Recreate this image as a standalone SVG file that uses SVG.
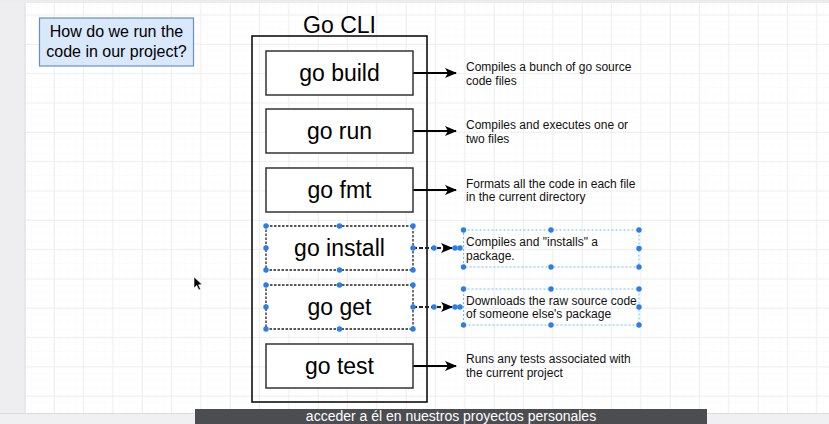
<svg xmlns="http://www.w3.org/2000/svg" width="829" height="424" viewBox="0 0 829 424">
<defs>
<pattern id="minor" x="24.5" y="14.5" width="7.333" height="7.333" patternUnits="userSpaceOnUse">
<path d="M7.333 0V7.333M0 7.333H7.333" fill="none" stroke="#fafafa" stroke-width="1"/>
</pattern>
<pattern id="major" x="24.5" y="14.5" width="29.33" height="29.33" patternUnits="userSpaceOnUse">
<path d="M0.5 0V29.33M0 0.5H29.33" fill="none" stroke="#eeeeee" stroke-width="1"/>
</pattern>
<marker id="arr" viewBox="0 0 12 10" refX="11" refY="5" markerWidth="12" markerHeight="10" markerUnits="userSpaceOnUse" orient="auto">
<path d="M0 0L12 5L0 10L3 5Z" fill="#000"/>
</marker>
<style>
.box{fill:#fff;stroke:#333;stroke-width:1.5}
.sel{fill:#fff;stroke:#222;stroke-width:1.3;stroke-dasharray:2.5 1.5}
.cmd{font-family:"Liberation Sans",Arial,sans-serif;font-size:23px;fill:#000;text-anchor:middle}
.desc{font-family:"Liberation Sans",Arial,sans-serif;font-size:12px;fill:#111}
.edge{stroke:#000;stroke-width:2;fill:none;marker-end:url(#arr)}
.edsel{stroke:#222;stroke-width:2;fill:none;stroke-dasharray:4 2;marker-end:url(#arr)}
.h{fill:#2b7de9}
.tsel{fill:none;stroke:#6cc0f5;stroke-width:1;stroke-dasharray:2 2}
</style>
</defs>
<rect width="829" height="424" fill="#fff"/>
<rect x="25" y="3" width="804" height="410" fill="url(#minor)"/>
<rect x="25" y="3" width="804" height="410" fill="url(#major)"/>
<rect x="0" y="0" width="25" height="424" fill="#eeeef0"/>
<line x1="25" y1="0" x2="25" y2="413" stroke="#dedede"/>
<rect x="0" y="0" width="829" height="3" fill="#ececee"/>
<rect x="0" y="413" width="829" height="11" fill="#f0f0f2"/>
<line x1="0" y1="413.5" x2="829" y2="413.5" stroke="#dcdcdc"/>

<g id="question">
<rect x="39.5" y="18" width="154" height="48" fill="#dae8fc" stroke="#6c8ebf" stroke-width="1.2"/>
<text x="116.5" y="37" font-family="Liberation Sans, Arial, sans-serif" font-size="16" text-anchor="middle">How do we run the</text>
<text x="116.5" y="57" font-family="Liberation Sans, Arial, sans-serif" font-size="16" text-anchor="middle">code in our project?</text>
</g>

<g id="go-cli">
<rect x="252" y="36" width="175" height="366" fill="none" stroke="#000" stroke-width="1.5"/>
<text x="339.5" y="32.5" font-family="Liberation Sans, Arial, sans-serif" font-size="23" text-anchor="middle">Go CLI</text>
</g>

<g id="connectors">
<line class="edge" x1="413" y1="73" x2="456" y2="73"/>
<line class="edge" x1="413" y1="131" x2="456" y2="131"/>
<line class="edge" x1="413" y1="190" x2="456" y2="190"/>
<line class="edsel" x1="413" y1="248" x2="452" y2="248"/>
<line class="edsel" x1="413" y1="307" x2="452" y2="307"/>
<line class="edge" x1="413" y1="366" x2="456" y2="366"/>
</g>

<g id="go-build">
<rect class="box" x="266" y="51" width="147" height="44"/>
<text class="cmd" x="339.5" y="81">go build</text>
</g>
<g id="go-run">
<rect class="box" x="266" y="109" width="147" height="44"/>
<text class="cmd" x="339.5" y="139">go run</text>
</g>
<g id="go-fmt">
<rect class="box" x="266" y="168" width="147" height="44"/>
<text class="cmd" x="339.5" y="198">go fmt</text>
</g>
<g id="go-install">
<rect class="sel" x="266" y="226" width="147" height="44"/>
<text class="cmd" x="339.5" y="256">go install</text>
</g>
<g id="go-get">
<rect class="sel" x="266" y="285" width="147" height="44"/>
<text class="cmd" x="339.5" y="315">go get</text>
</g>
<g id="go-test">
<rect class="box" x="266" y="344" width="147" height="44"/>
<text class="cmd" x="339.5" y="374">go test</text>
</g>

<g id="desc-build">
<text class="desc" x="466" y="71">Compiles a bunch of go source</text>
<text class="desc" x="466" y="84.5">code files</text>
</g>
<g id="desc-run">
<text class="desc" x="466" y="129">Compiles and executes one or</text>
<text class="desc" x="466" y="142.5">two files</text>
</g>
<g id="desc-fmt">
<text class="desc" x="466" y="187.5">Formats all the code in each file</text>
<text class="desc" x="466" y="201">in the current directory</text>
</g>
<g id="desc-install">
<rect class="tsel" x="463.5" y="230" width="175.5" height="37"/>
<text class="desc" x="466" y="246">Compiles and "installs" a</text>
<text class="desc" x="466" y="259.5">package.</text>
</g>
<g id="desc-get">
<rect class="tsel" x="463.5" y="289" width="175.5" height="36"/>
<text class="desc" x="466" y="304.5">Downloads the raw source code</text>
<text class="desc" x="466" y="318">of someone else's package</text>
</g>
<g id="desc-test">
<text class="desc" x="466" y="363">Runs any tests associated with</text>
<text class="desc" x="466" y="376.5">the current project</text>
</g>

<g id="handles">
<circle class="h" cx="266" cy="226" r="2.7"/><circle class="h" cx="339.5" cy="226" r="2.7"/><circle class="h" cx="413" cy="226" r="2.7"/>
<circle class="h" cx="266" cy="248" r="2.7"/><circle class="h" cx="413" cy="248" r="2.7"/>
<circle class="h" cx="266" cy="270" r="2.7"/><circle class="h" cx="339.5" cy="270" r="2.7"/><circle class="h" cx="413" cy="270" r="2.7"/>
<circle class="h" cx="266" cy="285" r="2.7"/><circle class="h" cx="339.5" cy="285" r="2.7"/><circle class="h" cx="413" cy="285" r="2.7"/>
<circle class="h" cx="266" cy="307" r="2.7"/><circle class="h" cx="413" cy="307" r="2.7"/>
<circle class="h" cx="266" cy="329" r="2.7"/><circle class="h" cx="339.5" cy="329" r="2.7"/><circle class="h" cx="413" cy="329" r="2.7"/>
<circle class="h" cx="434" cy="248" r="2.7"/><circle class="h" cx="455" cy="248" r="2.7"/>
<circle class="h" cx="434" cy="307" r="2.7"/><circle class="h" cx="455" cy="307" r="2.7"/>
<circle class="h" cx="463.5" cy="230" r="2.7"/><circle class="h" cx="551" cy="230" r="2.7"/><circle class="h" cx="639" cy="230" r="2.7"/>
<circle class="h" cx="460" cy="248" r="2.7"/><circle class="h" cx="639" cy="248.5" r="2.7"/>
<circle class="h" cx="463.5" cy="267" r="2.7"/><circle class="h" cx="551" cy="267" r="2.7"/><circle class="h" cx="639" cy="267" r="2.7"/>
<circle class="h" cx="463.5" cy="289" r="2.7"/><circle class="h" cx="551" cy="289" r="2.7"/><circle class="h" cx="639" cy="289" r="2.7"/>
<circle class="h" cx="460" cy="307" r="2.7"/><circle class="h" cx="639" cy="307" r="2.7"/>
<circle class="h" cx="463.5" cy="325" r="2.7"/><circle class="h" cx="551" cy="325" r="2.7"/><circle class="h" cx="639" cy="325" r="2.7"/>
</g>

<path d="M194 277L194 288L196.8 285.5L198.8 290L200.5 289.2L198.6 284.8L202.2 284.6Z" fill="#000" stroke="#fff" stroke-width="0.6"/>

<g id="subtitle">
<rect x="195" y="409" width="512" height="15" fill="#4c4d51"/>
<text x="451" y="420.5" font-family="Liberation Sans, Arial, sans-serif" font-size="14" fill="#fff" text-anchor="middle">acceder a él en nuestros proyectos personales</text>
</g>
</svg>
